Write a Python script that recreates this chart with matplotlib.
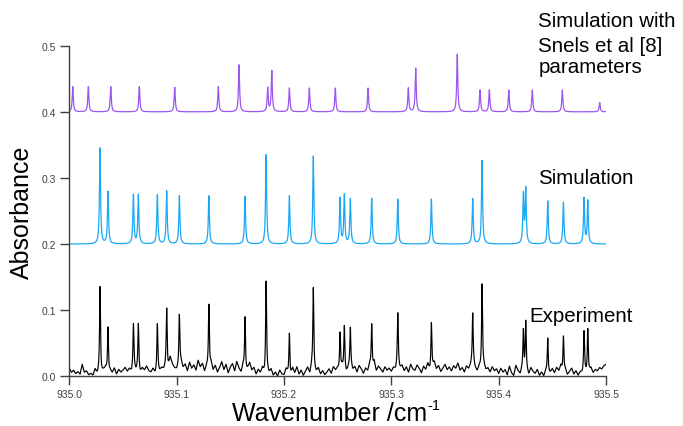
import numpy as np
import matplotlib.pyplot as plt

plt.rcParams['font.family'] = ['Liberation Sans', 'DejaVu Sans']

# --- line lists (cm-1, peak height above baseline) ---
snels_pos = [935.0032, 935.0177, 935.0386, 935.0652, 935.0982, 935.1388, 935.1581,
             935.1848, 935.1886, 935.2050, 935.2236, 935.2478, 935.2783, 935.3158,
             935.3227, 935.3614, 935.3826, 935.3913, 935.4094, 935.4313, 935.4593,
             935.4941]
snels_amp = [0.038, 0.038, 0.038, 0.038, 0.037, 0.038, 0.071,
             0.036, 0.062, 0.036, 0.036, 0.036, 0.036, 0.036,
             0.066, 0.087, 0.033, 0.033, 0.033, 0.033, 0.033,
             0.014]

sim_pos = [935.0286, 935.0360, 935.0597, 935.0643, 935.0820, 935.0907, 935.1025,
           935.1300, 935.1637, 935.1833, 935.2050, 935.2273, 935.2522, 935.2562,
           935.2618, 935.2817, 935.3060, 935.3373, 935.3758, 935.3845, 935.4230,
           935.4252, 935.4457, 935.4603, 935.4795, 935.4830]
sim_amp = [0.145, 0.079, 0.074, 0.074, 0.074, 0.080, 0.073,
           0.073, 0.072, 0.135, 0.073, 0.133, 0.069, 0.074,
           0.068, 0.069, 0.068, 0.068, 0.068, 0.126, 0.074,
           0.082, 0.065, 0.063, 0.069, 0.065]

exp_amp = [0.130, 0.072, 0.066, 0.070, 0.070, 0.088, 0.076,
           0.098, 0.084, 0.138, 0.063, 0.122, 0.058, 0.066,
           0.056, 0.068, 0.076, 0.070, 0.073, 0.128, 0.060,
           0.074, 0.054, 0.056, 0.060, 0.066]

# experimental baseline, every 0.002 cm-1 from 935.000 to 935.500
exp_base = [
    0.012, 0.006, 0.009, 0.004, 0.007, 0.003, 0.018, 0.006, 0.008, 0.002, 0.004, 0.001, 0.010,
    0.003, 0.006, 0.004, 0.009, 0.012, 0.002, 0.008, 0.005, 0.012, 0.003, 0.010, 0.006,
    0.009, 0.013, 0.007, 0.011, 0.006, 0.014, 0.008, 0.010, 0.005, 0.012, 0.009, 0.015, 0.008,
    0.006, 0.011, 0.004, 0.009, 0.007, 0.012, 0.010, 0.016, 0.013, 0.028, 0.018, 0.012,
    0.010, 0.016, 0.022, 0.013, 0.018, 0.008, 0.021, 0.012, 0.017, 0.009, 0.024, 0.014, 0.019,
    0.007, 0.015, 0.011, 0.020, 0.009, 0.016, 0.006, 0.013, 0.022, 0.010, 0.018, 0.005,
    0.014, 0.019, 0.008, 0.022, 0.012, 0.006, 0.017, 0.004, 0.011, 0.020, 0.009, 0.013, 0.003,
    0.010, 0.005, 0.012, 0.002, 0.008, 0.004, 0.010, 0.001, 0.006, 0.000, 0.009, 0.003,
    0.002, 0.011, 0.004, 0.000, 0.012, 0.005, 0.014, 0.003, 0.009, 0.001, 0.007, 0.013, 0.004,
    0.016, 0.010, 0.006, 0.012, 0.003, 0.008, 0.002, 0.006, 0.011, 0.004, 0.014, 0.009,
    0.012, 0.007, 0.015, 0.010, 0.005, 0.013, 0.018, 0.009, 0.014, 0.006, 0.016, 0.011, 0.004,
    0.012, 0.008, 0.019, 0.010, 0.022, 0.008, 0.015, 0.011, 0.006, 0.014, 0.009, 0.012,
    0.007, 0.013, 0.010, 0.020, 0.012, 0.016, 0.008, 0.014, 0.006, 0.018, 0.011, 0.009, 0.017,
    0.012, 0.005, 0.015, 0.010, 0.019, 0.008, 0.013, 0.021, 0.011, 0.016, 0.007, 0.012,
    0.018, 0.010, 0.014, 0.008, 0.016, 0.012, 0.020, 0.009, 0.013, 0.006, 0.015, 0.011, 0.017,
    0.023, 0.012, 0.007, 0.014, 0.010, 0.016, 0.009, 0.012, 0.006, 0.014, 0.008, 0.011,
    0.004, 0.012, 0.006, 0.010, 0.002, 0.015, 0.005, 0.001, 0.016, 0.008, 0.003, 0.011, 0.006,
    0.009, 0.002, 0.012, 0.007, 0.004, 0.010, 0.001, 0.006, 0.000, 0.008, 0.003, 0.005,
    0.011, 0.005, 0.013, 0.008, 0.016, 0.004, 0.010, 0.002, 0.007, 0.012, 0.003, 0.008, 0.001,
    0.006, 0.004, 0.009, 0.003, 0.007, 0.012, 0.005, 0.010, 0.008, 0.013, 0.011, 0.016,
    0.018]

snels_offset = 0.4
sim_offset = 0.2


def lorentz_sum(x, pos, amp, hw):
    y = np.zeros_like(x)
    for p, a in zip(pos, amp):
        y += a / (1 + ((x - p) / hw) ** 2)
    return y


x = np.arange(935.0, 935.5 + 1e-9, 0.0001)
x_base = np.linspace(935.0, 935.5, len(exp_base))

y_snels = snels_offset + lorentz_sum(x, snels_pos, snels_amp, 0.0006)
y_sim = sim_offset + lorentz_sum(x, sim_pos, sim_amp, 0.0006)
y_exp = np.interp(x, x_base, exp_base) + lorentz_sum(x, sim_pos, exp_amp, 0.0005)

fig = plt.figure(figsize=(6.83, 4.27), dpi=100)
ax = fig.add_axes([0.1015, 0.1164, 0.7858, 0.7742])

ax.plot(x, y_snels, color='#9C55F0', lw=0.9)
ax.plot(x, y_sim, color='#1AA8F5', lw=0.9)
ax.plot(x, y_exp, color='black', lw=0.85)

ax.set_xlim(935.0, 935.5)
ax.set_ylim(0, 0.5)
ax.set_xticks(np.arange(935.0, 935.51, 0.1))
ax.set_xticklabels(['935.0', '935.1', '935.2', '935.3', '935.4', '935.5'])
ax.set_yticks([0.0, 0.1, 0.2, 0.3, 0.4, 0.5])
ax.set_yticklabels(['0.0', '0.1', '0.2', '0.3', '0.4', '0.5'])

for s in ['top', 'right']:
    ax.spines[s].set_visible(False)
for s in ['left', 'bottom']:
    ax.spines[s].set_color('#404040')
    ax.spines[s].set_linewidth(1.0)
ax.tick_params(direction='out', length=6.5, width=1.0, color='#404040',
               labelsize=7.5, labelcolor='#404040', pad=3)

fig.text(22 / 683, 1 - 212 / 427, 'Absorbance', rotation=90, ha='center', va='center',
         fontsize=18)
# axis title with a small raised "-1", as in the original
fig.text(232 / 683, 1 - 421 / 427, 'Wavenumber /cm', ha='left', va='baseline', fontsize=18)
fig.text(427 / 683, 1 - 410 / 427, '-1', ha='left', va='baseline', fontsize=10.5)

lab = dict(fontsize=14.8, ha='left', va='baseline', clip_on=False)
ax.text(935.437, 0.5303, 'Simulation with', **lab)
ax.text(935.437, 0.4924, 'Snels et al [8]', **lab)
ax.text(935.437, 0.4595, 'parameters', **lab)
ax.text(935.4364, 0.2923, 'Simulation', **lab)
ax.text(935.4283, 0.0841, 'Experiment', **lab)

fig.savefig('out.png', dpi=100)
